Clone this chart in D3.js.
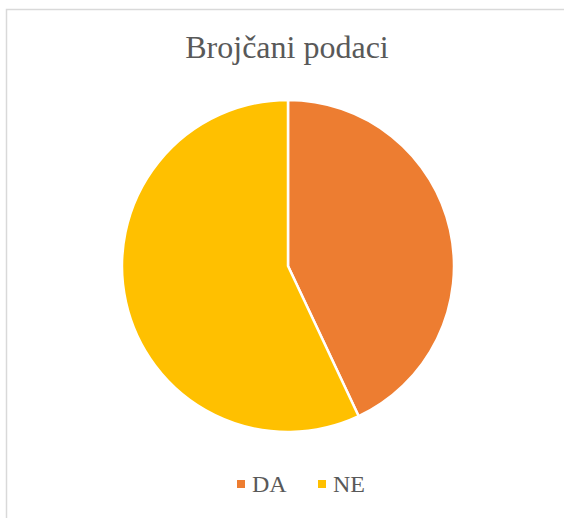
<!DOCTYPE html>
<head>
  <meta charset="utf-8">
  <title>Brojčani podaci</title>
  <style>
    body { margin: 0; background: #fff; }
  </style>
</head>
<body>
  <div id="chart"></div>
  <script src="https://d3js.org/d3.v7.min.js"></script>
  <script>
    // data
    const categories = ['DA', 'NE'];
    const values = [43, 57];
    const colors = ['#ED7D31', '#FFC000'];
    const title = 'Brojčani podaci';

    const width = 564, height = 518;
    const font = "'Times New Roman', 'Liberation Serif', 'DejaVu Serif', serif";

    const svg = d3.select('#chart')
      .append('svg')
      .attr('width', width)
      .attr('height', height);

    // chart border (only top and left visible)
    svg.append('rect')
      .attr('x', 6.5)
      .attr('y', 9.5)
      .attr('width', 600)
      .attr('height', 600)
      .attr('fill', 'none')
      .attr('stroke', '#D9D9D9')
      .attr('stroke-width', 1.5);

    svg.append('text')
      .attr('x', 287)
      .attr('y', 58)
      .attr('text-anchor', 'middle')
      .style('font-family', font)
      .style('font-size', '32px')
      .style('fill', '#595959')
      .text(title);

    const data = categories.map((c, i) => ({ name: c, value: values[i] }));

    const pie = d3.pie()
      .value(d => d.value)
      .sort(null);

    const arc = d3.arc()
      .innerRadius(0)
      .outerRadius(166);

    const color = d3.scaleOrdinal()
      .domain(categories)
      .range(colors);

    const g = svg.append('g')
      .attr('transform', 'translate(288, 266)');

    g.selectAll('path')
      .data(pie(data))
      .join('path')
      .attr('d', arc)
      .attr('fill', d => color(d.data.name))
      .attr('stroke', '#fff')
      .attr('stroke-width', 2.5)
      .attr('stroke-linejoin', 'round');

    // legend
    const legendX = d3.scalePoint()
      .domain(categories)
      .range([237, 318]);

    const legend = svg.append('g')
      .selectAll('g')
      .data(categories)
      .join('g')
      .attr('transform', d => `translate(${legendX(d)}, 0)`);

    legend.append('rect')
      .attr('x', 0)
      .attr('y', 480)
      .attr('width', 8)
      .attr('height', 8)
      .attr('fill', d => color(d));

    legend.append('text')
      .attr('x', 15)
      .attr('y', 492)
      .style('font-family', font)
      .style('font-size', '24px')
      .style('fill', '#595959')
      .text(d => d);
  </script>
</body>
</html>
